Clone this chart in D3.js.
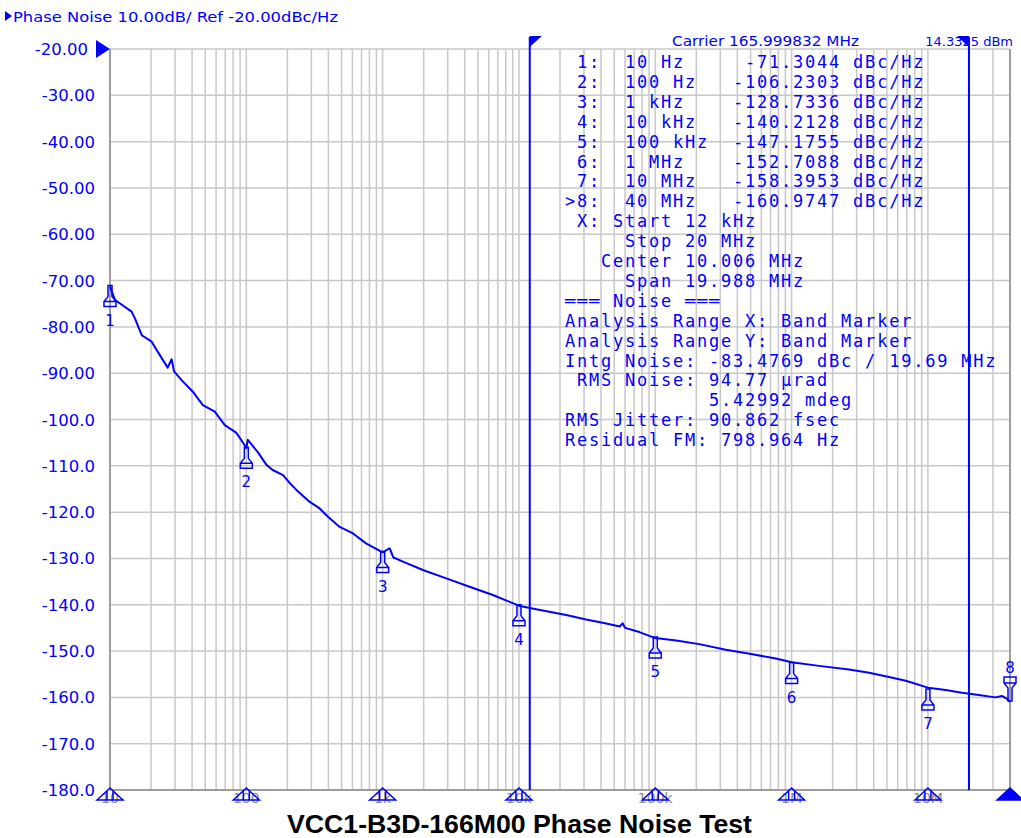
<!DOCTYPE html>
<html>
<head>
<meta charset="utf-8">
<script src="https://cdn.jsdelivr.net/npm/d3@7"></script>
<style>
  body { margin: 0; background: #fff; }
  svg { display: block; }
</style>
</head>
<body>
<svg id="chart"></svg>
<script>
// trace (Hz, dBc/Hz)
const traceFreq = [10, 10.9, 14.4, 15.2, 17.1, 20.2, 23.2, 26.5, 28.3, 29.5, 33.5, 40.5, 48, 58.7, 69.5, 84.7, 97, 100, 102.6,
  121, 140.6, 156, 186, 208, 233, 292, 345, 397, 484, 606, 760, 1000, 1125, 1200, 1409, 1974, 2929, 4337, 6430,
  10000, 12000, 16700, 22200, 31100, 41100, 55000, 57600, 60000, 76400, 100000, 142000, 210000, 329000, 516000,
  766000, 1e6, 1.59e6, 2.64e6, 3.7e6, 5.18e6, 6.87e6, 1e7, 1.35e7, 1.78e7, 2.36e7, 3.13e7, 3.49e7, 3.8e7, 4e7];
const traceDb = [-71.3, -74.2, -76.7, -78.1, -81.8, -83.2, -86.1, -88.8, -87.0, -89.6, -91.5, -94.0, -96.9, -98.3, -101.2, -102.9, -105.5, -106.2, -104.4,
  -107.0, -109.8, -110.9, -112.0, -113.7, -115.2, -117.8, -119.2, -121.0, -123.2, -124.6, -126.8, -128.7, -127.8, -129.8, -130.7, -132.5, -134.3, -136.1, -137.9,
  -140.2, -140.7, -141.5, -142.2, -143.2, -143.9, -144.7, -144.0, -145.0, -145.9, -147.2, -147.7, -148.5, -149.7, -150.7,
  -151.6, -152.4, -153.2, -154.0, -154.7, -155.6, -156.4, -157.9, -158.4, -159.0, -159.5, -160.0, -159.7, -160.3, -161.0];

// markers
const markerNames = ['1', '2', '3', '4', '5', '6', '7', '8'];
const markerFreq = [10, 100, 1e3, 1e4, 1e5, 1e6, 1e7, 4e7];
const markerFreqLabels = ['10 Hz', '100 Hz', '1 kHz', '10 kHz', '100 kHz', '1 MHz', '10 MHz', '40 MHz'];
const markerDb = [-71.3044, -106.2303, -128.7336, -140.2128, -147.1755, -152.7088, -158.3953, -160.9747];

const bandMarkers = [12e3, 20e6];
const yTicks = [-20, -30, -40, -50, -60, -70, -80, -90, -100, -110, -120, -130, -140, -150, -160, -170, -180];
const xTickValues = [10, 100, 1e3, 1e4, 1e5, 1e6, 1e7];
const xTickLabels = ['10', '100', '1k', '10k', '100k', '1M', '10M'];

const infoLines = [
  ' X: Start 12 kHz',
  '     Stop 20 MHz',
  '   Center 10.006 MHz',
  '     Span 19.988 MHz',
  '═══ Noise ═══',
  'Analysis Range X: Band Marker',
  'Analysis Range Y: Band Marker',
  'Intg Noise: -83.4769 dBc / 19.69 MHz',
  ' RMS Noise: 94.77 µrad',
  '            5.42992 mdeg',
  'RMS Jitter: 90.862 fsec',
  'Residual FM: 798.964 Hz'
];

const width = 1021;
const height = 838;
const blue = '#0000ff';
const gridColor = '#c8c8c8';
const frameColor = '#8c8c8c';
const uiFont = '"DejaVu Sans", Verdana, sans-serif';
const monoFont = '"DejaVu Sans Mono", "Liberation Mono", monospace';

const svg = d3.select('#chart')
  .attr('width', width)
  .attr('height', height)
;

const x = d3.scaleLog()
  .domain([10, 4e7])
  .range([110, 1010])
;
const y = d3.scaleLinear()
  .domain([-20, -180])
  .range([49, 790])
;

{ // grid
const grid = svg.append('g').attr('class', 'grid');
grid.selectAll('.vgrid')
  .data(x.ticks())
  .enter().append('line')
  .attr('class', 'vgrid')
  .attr('x1', d => x(d))
  .attr('x2', d => x(d))
  .attr('y1', y(-20))
  .attr('y2', y(-180))
  .attr('stroke', gridColor)
  .attr('stroke-width', 1.5)
;
grid.selectAll('.hgrid')
  .data(yTicks)
  .enter().append('line')
  .attr('class', 'hgrid')
  .attr('x1', x(10))
  .attr('x2', x(4e7))
  .attr('y1', d => y(d))
  .attr('y2', d => y(d))
  .attr('stroke', gridColor)
  .attr('stroke-width', 1.5)
;
// frame
grid.append('path')
  .attr('d', `M${x(10)},${y(-20)}V${y(-180)}H${x(4e7)}V${y(-20)}`)
  .attr('fill', 'none')
  .attr('stroke', frameColor)
  .attr('stroke-width', 1.5)
;
}

// y axis labels
svg.append('g')
  .selectAll('text')
  .data(yTicks)
  .enter().append('text')
  .attr('x', d => d === -20 ? 88 : 95)
  .attr('y', d => y(d) + 6)
  .attr('text-anchor', 'end')
  .attr('fill', blue)
  .style('font', `16.5px ${uiFont}`)
  .text(d => d > -100 ? d.toFixed(2) : d.toFixed(1))
;

// bottom tick labels (grey, under the marker flags)
svg.append('g')
  .selectAll('text')
  .data(xTickValues)
  .enter().append('text')
  .attr('x', d => x(d))
  .attr('y', 803)
  .attr('text-anchor', 'middle')
  .attr('fill', '#8a8a8a')
  .style('font', `14px ${uiFont}`)
  .text((d, i) => xTickLabels[i])
;

// header texts (drawn before the band markers, which sit on top as on the analyzer)
svg.append('path')
  .attr('d', 'M5,11L12,16L5,21Z')
  .attr('fill', blue)
;
svg.append('text')
  .attr('x', 13)
  .attr('y', 22)
  .attr('fill', blue)
  .attr('textLength', 325)
  .attr('lengthAdjust', 'spacingAndGlyphs')
  .style('font', `14.5px ${uiFont}`)
  .text('Phase Noise 10.00dB/ Ref -20.00dBc/Hz')
;
svg.append('text')
  .attr('x', 672)
  .attr('y', 46)
  .attr('fill', blue)
  .attr('textLength', 187)
  .attr('lengthAdjust', 'spacingAndGlyphs')
  .style('font', `14.5px ${uiFont}`)
  .text('Carrier 165.999832 MHz')
;
svg.append('text')
  .attr('x', 1013)
  .attr('y', 46)
  .attr('text-anchor', 'end')
  .attr('fill', blue)
  .style('font', `13px ${uiFont}`)
  .text('14.3325 dBm')
;

// band marker lines
svg.append('g')
  .selectAll('line')
  .data(bandMarkers)
  .enter().append('line')
  .attr('x1', d => x(d))
  .attr('x2', d => x(d))
  .attr('y1', 37)
  .attr('y2', y(-180))
  .attr('stroke', blue)
  .attr('stroke-width', 2)
;
svg.append('path')
  .attr('d', `M${x(bandMarkers[0])},36h12l-12,11Z`)
  .attr('fill', blue)
;
svg.append('path')
  .attr('d', `M${x(bandMarkers[1])},36h-12l12,11Z`)
  .attr('fill', blue)
;

// trace
const line = d3.line()
  .x((d, i) => x(traceFreq[i]))
  .y(d => y(d))
;
svg.append('path')
  .datum(traceDb)
  .attr('d', line)
  .attr('fill', 'none')
  .attr('stroke', blue)
  .attr('stroke-width', 2)
  .attr('stroke-linejoin', 'round')
;

// marker glyphs on the trace
const markerUp = 'M-2,0V11L-6,16V21H6V16L2,11V0Z M-6,16H6';
const markerDown = 'M-2,0V-13L-6,-18V-24H6V-18L2,-13V0Z M-6,-18H6';
const markers = svg.append('g')
  .selectAll('g')
  .data(markerDb)
  .enter().append('g')
  .attr('transform', (d, i) => `translate(${x(markerFreq[i])},${y(d) - 1})`)
;
markers.append('path')
  .attr('d', (d, i) => i === 7 ? markerDown : markerUp)
  .attr('fill', 'none')
  .attr('stroke', blue)
  .attr('stroke-width', 1.5)
;
markers.append('text')
  .attr('y', (d, i) => i === 7 ? -28 : 40)
  .attr('text-anchor', 'middle')
  .attr('fill', blue)
  .style('font', `15px ${uiFont}`)
  .text((d, i) => markerNames[i])
;

// marker flags on the bottom edge
svg.append('g')
  .selectAll('path')
  .data(markerFreq)
  .enter().append('path')
  .attr('transform', d => `translate(${x(d)},788)`)
  .attr('d', (d, i) => i === 7 ? 'M-13,12L0,0L13,12Z' : 'M-13,12L0,0L13,12Z M-3,3V12 M3,3V12')
  .attr('fill', (d, i) => i === 7 ? blue : 'none')
  .attr('stroke', blue)
  .attr('stroke-width', 1.5)
;

// reference level arrow
svg.append('path')
  .attr('d', `M96,${y(-20) - 9}L${x(10)},${y(-20)}L96,${y(-20) + 9}Z`)
  .attr('fill', blue)
;

// marker table and noise analysis (monospace, 12px per column)
const tableLines = markerDb.map((d, i) =>
  (i === 7 ? '>' : ' ') + markerNames[i] + ':  ' +
  markerFreqLabels[i].padEnd(9) + d.toFixed(4).padStart(9) + ' dBc/Hz'
).concat(infoLines);

svg.append('g')
  .selectAll('text')
  .data(tableLines)
  .enter().append('text')
  .attr('x', 565)
  .attr('y', (d, i) => 68 + i * 19.9)
  .attr('fill', blue)
  .attr('xml:space', 'preserve')
  .style('white-space', 'pre')
  .style('font', `17px ${monoFont}`)
  .style('letter-spacing', '1.77px')
  .text(d => d)
;

// title
svg.append('text')
  .attr('x', 287)
  .attr('y', 833)
  .attr('fill', '#000')
  .attr('textLength', 465)
  .attr('lengthAdjust', 'spacingAndGlyphs')
  .style('font', 'bold 26px "Liberation Sans", Arial, sans-serif')
  .text('VCC1-B3D-166M00 Phase Noise Test')
;
</script>
</body>
</html>
